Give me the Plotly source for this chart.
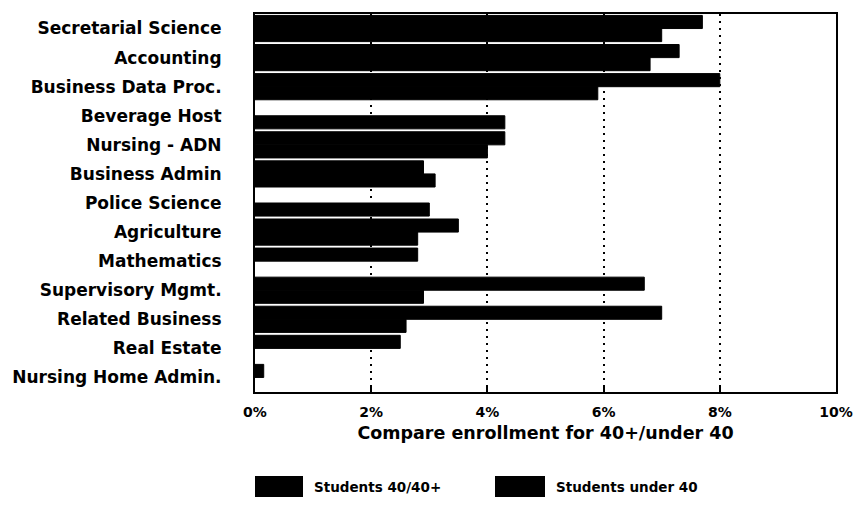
import plotly.graph_objects as go

programs = [
    "Secretarial Science",
    "Accounting",
    "Business Data Proc.",
    "Beverage Host",
    "Nursing - ADN",
    "Business Admin",
    "Police Science",
    "Agriculture",
    "Mathematics",
    "Supervisory Mgmt.",
    "Related Business",
    "Real Estate",
    "Nursing Home Admin.",
]

# Share of enrollment (%) per program
students_40_plus = [7.7, 7.3, 8.0, 0.0, 4.3, 2.9, 0.0, 3.5, 2.8, 6.7, 7.0, 2.5, 0.15]
students_under_40 = [7.0, 6.8, 5.9, 4.3, 4.0, 3.1, 3.0, 2.8, 0.0, 2.9, 2.6, 0.0, 0.0]

x_ticks = [0, 2, 4, 6, 8, 10]
x_tick_labels = ["0%", "2%", "4%", "6%", "8%", "10%"]
series_names = ["Students 40/40+", "Students under 40"]

FONT = "DejaVu Sans"
W, H = 862, 508

fig = go.Figure()
for name, values in zip(series_names, [students_40_plus, students_under_40]):
    # a thin outline on non-empty bars closes the seam between paired bars
    outline = [1 if v > 0 else 0 for v in values]
    fig.add_trace(go.Bar(
        y=programs, x=values, orientation="h", name=name,
        marker=dict(color="black", line=dict(color="black", width=outline)),
    ))

# plot box in pixels
left, right, top, bottom = 255, 836, 14, 392

fig.update_layout(
    width=W, height=H,
    margin=dict(l=0, r=0, t=0, b=0),
    paper_bgcolor="white", plot_bgcolor="white",
    barmode="group", bargap=0.1, bargroupgap=0.0,
    showlegend=False,
    font=dict(family=FONT, color="black", size=14, weight="bold"),
    xaxis=dict(
        domain=[left / W, right / W],
        range=[0, 10],
        automargin=False,
        tickvals=x_ticks, ticktext=x_tick_labels,
        showgrid=True, gridcolor="black", gridwidth=2, griddash="2px,5px",
        showline=True, linecolor="black", linewidth=2, mirror=True,
        ticks="inside", ticklen=6, tickwidth=2, tickcolor="black",
        tickfont=dict(size=14, family=FONT, weight="bold"),
        ticklabelstandoff=6,
        zeroline=False,
        title=dict(text="Compare enrollment for 40+/under 40",
                   font=dict(size=17.5, family=FONT, weight="bold"), standoff=8),
    ),
    yaxis=dict(
        domain=[1 - bottom / H, 1 - top / H],
        autorange="reversed",
        automargin=False,
        showline=True, linecolor="black", linewidth=2, mirror=True,
        showgrid=False, ticks="",
        tickfont=dict(size=17, family=FONT, weight="bold"),
        ticklabelstandoff=28,
    ),
)

# legend drawn as swatches plus labels below the axis title
legend_items = [(255, 303, series_names[0]), (495, 545, series_names[1])]
for x0, x1, label in legend_items:
    fig.add_shape(type="rect", xref="paper", yref="paper",
                  x0=x0 / W, x1=x1 / W, y0=1 - 497 / H, y1=1 - 476 / H,
                  fillcolor="black", line=dict(width=0))
    fig.add_annotation(xref="paper", yref="paper", x=(x1 + 9) / W, y=1 - 487 / H,
                       xanchor="left", yanchor="middle", showarrow=False,
                       text=label, font=dict(size=13.5, family=FONT, weight="bold"))

fig.write_html("out.html")
